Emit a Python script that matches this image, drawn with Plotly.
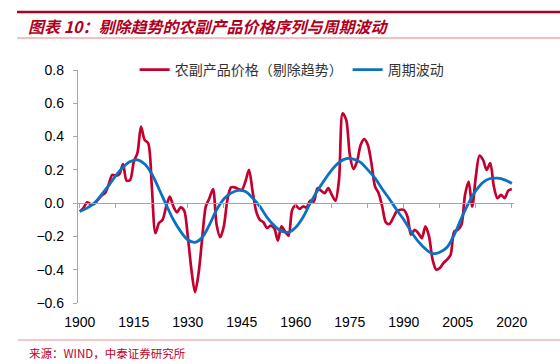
import plotly.graph_objects as go

# ---- data ----
red_years = list(range(1900, 2021))
red_values = [
    -0.05, -0.03, 0.005, -0.005, -0.005, 0.02, 0.045, 0.06, 0.11, 0.17,   # 1900-1909
    0.165, 0.175, 0.235, 0.135, 0.14, 0.25, 0.30, 0.46, 0.38, 0.36,       # 1910-1919
    0.10, -0.18, -0.12, -0.10, -0.02, 0.04, -0.02, -0.055, -0.025, -0.045, # 1920-1929
    -0.20, -0.40, -0.535, -0.42, -0.21, -0.02, 0.03, 0.085, -0.13, -0.205, # 1930-1939
    -0.14, 0.02, 0.095, 0.095, 0.085, 0.08, 0.13, 0.20, 0.07, -0.05,      # 1940-1949
    -0.10, -0.115, -0.15, -0.135, -0.15, -0.225, -0.14, -0.17, -0.195, -0.04, # 1950-1959
    -0.015, -0.035, -0.02, -0.025, 0.015, 0.01, 0.09, 0.075, 0.06, 0.09,  # 1960-1969
    0.05, 0.015, 0.14, 0.54, 0.50, 0.29, 0.205, 0.25, 0.35, 0.385,        # 1970-1979
    0.35, 0.24, 0.10, 0.06, -0.02, -0.115, -0.125, -0.09, -0.05, -0.04,   # 1980-1989
    -0.04, -0.08, -0.19, -0.16, -0.18, -0.21, -0.14, -0.20, -0.34, -0.40, # 1990-1999
    -0.39, -0.36, -0.34, -0.31, -0.17, -0.16, -0.13, 0.05, 0.13, -0.02,   # 2000-2009
    0.16, 0.285, 0.26, 0.20, 0.24, 0.10, 0.03, 0.05, 0.03, 0.075,         # 2010-2019
    0.085,                                                                # 2020
]

blue_years = list(range(1900, 2021, 2))
blue_values = [
    -0.05, -0.03, 0.0, 0.05, 0.105, 0.165, 0.215, 0.25, 0.26, 0.235,      # 1900-1918
    0.175, 0.085, -0.01, -0.10, -0.17, -0.22, -0.236, -0.205, -0.13, -0.04, # 1920-1938
    0.025, 0.06, 0.077, 0.07, 0.03, -0.02, -0.085, -0.135, -0.168, -0.175, # 1940-1958
    -0.145, -0.085, 0.0, 0.075, 0.14, 0.20, 0.245, 0.268, 0.265, 0.245,   # 1960-1978
    0.20, 0.15, 0.085, 0.025, -0.04, -0.10, -0.17, -0.23, -0.275, -0.303, # 1980-1998
    -0.295, -0.265, -0.19, -0.09, 0.0, 0.075, 0.125, 0.148, 0.15, 0.14,   # 2000-2018
    0.118,                                                                # 2020
]

label_years = [1900, 1915, 1930, 1945, 1960, 1975, 1990, 2005, 2020]
minor_tick_years = list(range(1900, 2021, 10))
y_ticks = [-0.6, -0.4, -0.2, 0.0, 0.2, 0.4, 0.6, 0.8]

red_name = "农副产品价格（剔除趋势）"
blue_name = "周期波动"
title_text = "图表 10：剔除趋势的农副产品价格序列与周期波动"
source_text = "来源：WIND，中泰证券研究所"

RED = "#C4002F"
BLUE = "#0A72C2"
AXIS = "#A6A6A6"

fig = go.Figure()
fig.add_trace(go.Scatter(
    x=red_years, y=red_values, mode="lines", name=red_name,
    line=dict(color=RED, width=2.7, shape="spline", smoothing=0.8),
))
fig.add_trace(go.Scatter(
    x=blue_years, y=blue_values, mode="lines", name=blue_name,
    line=dict(color=BLUE, width=2.8, shape="spline", smoothing=1.0),
))

xr = [1899.5, 2020.6]
fig.update_layout(
    width=560, height=364,
    margin=dict(l=78, r=46, t=70, b=61, autoexpand=False),
    paper_bgcolor="white", plot_bgcolor="white",
    font=dict(family="Liberation Sans, Arial, sans-serif", size=14, color="#000000"),
    showlegend=True,
    legend=dict(
        orientation="h", x=0.49, xanchor="center", y=1.0, yanchor="middle",
        font=dict(family="Noto Sans CJK SC", size=14, color="#333333"),
        bgcolor="rgba(0,0,0,0)", itemwidth=30, tracegroupgap=0,
    ),
    xaxis=dict(
        range=xr, tickmode="array", tickvals=label_years,
        ticktext=[str(v) for v in label_years],
        showline=False, showgrid=False, zeroline=False, automargin=False,
        ticks="outside", ticklen=6, tickcolor="rgba(0,0,0,0)",
        tickfont=dict(size=14, color="#000000"),
    ),
    xaxis2=dict(
        range=xr, overlaying="x", anchor="free", position=0.6 / 1.4,
        side="bottom", showline=True, linecolor=AXIS, linewidth=1.3,
        tickmode="array", tickvals=minor_tick_years, showticklabels=False,
        ticks="outside", ticklen=4, tickcolor=AXIS, showgrid=False, zeroline=False,
        automargin=False,
    ),
    yaxis=dict(
        range=[-0.6, 0.8], tickmode="array", tickvals=y_ticks,
        tickformat=".1f", showline=True, linecolor=AXIS, linewidth=1.3,
        ticks="outside", ticklen=4, tickcolor=AXIS, showgrid=False,
        zeroline=False, ticklabelstandoff=6, automargin=False,
        tickfont=dict(size=14, color="#000000"),
    ),
)

# invisible trace to activate xaxis2
fig.add_trace(go.Scatter(x=[xr[0]], y=[0], xaxis="x2", mode="markers",
                         marker=dict(opacity=0), showlegend=False, hoverinfo="skip"))

# header / footer decorations
def px_x(px):
    return (px - 78) / 436.0

def px_y(py):
    return (303 - py) / 233.0

fig.add_shape(type="line", xref="paper", yref="paper",
              x0=px_x(17), x1=px_x(560), y0=px_y(12), y1=px_y(12),
              line=dict(color="#B00020", width=2.5))
fig.add_shape(type="line", xref="paper", yref="paper",
              x0=px_x(17), x1=px_x(560), y0=px_y(38), y1=px_y(38),
              line=dict(color="#E88080", width=1))
fig.add_shape(type="line", xref="paper", yref="paper",
              x0=px_x(18), x1=px_x(560), y0=px_y(340), y1=px_y(340),
              line=dict(color="#F09090", width=1))

fig.add_annotation(text="<b><i>" + title_text + "</i></b>", xref="paper", yref="paper",
                   x=px_x(26), y=px_y(26), xanchor="left", yanchor="middle",
                   showarrow=False,
                   font=dict(family="Noto Sans CJK SC", size=16, color="#B0001E"))
fig.add_annotation(text=source_text, xref="paper", yref="paper",
                   x=px_x(27), y=px_y(353), xanchor="left", yanchor="middle",
                   showarrow=False,
                   font=dict(family="Noto Sans CJK SC", size=11.5, color="#C0001F"))

fig.write_html("out.html", config={"displayModeBar": False},
               post_script="document.body.style.margin='0';document.body.style.padding='0';")
